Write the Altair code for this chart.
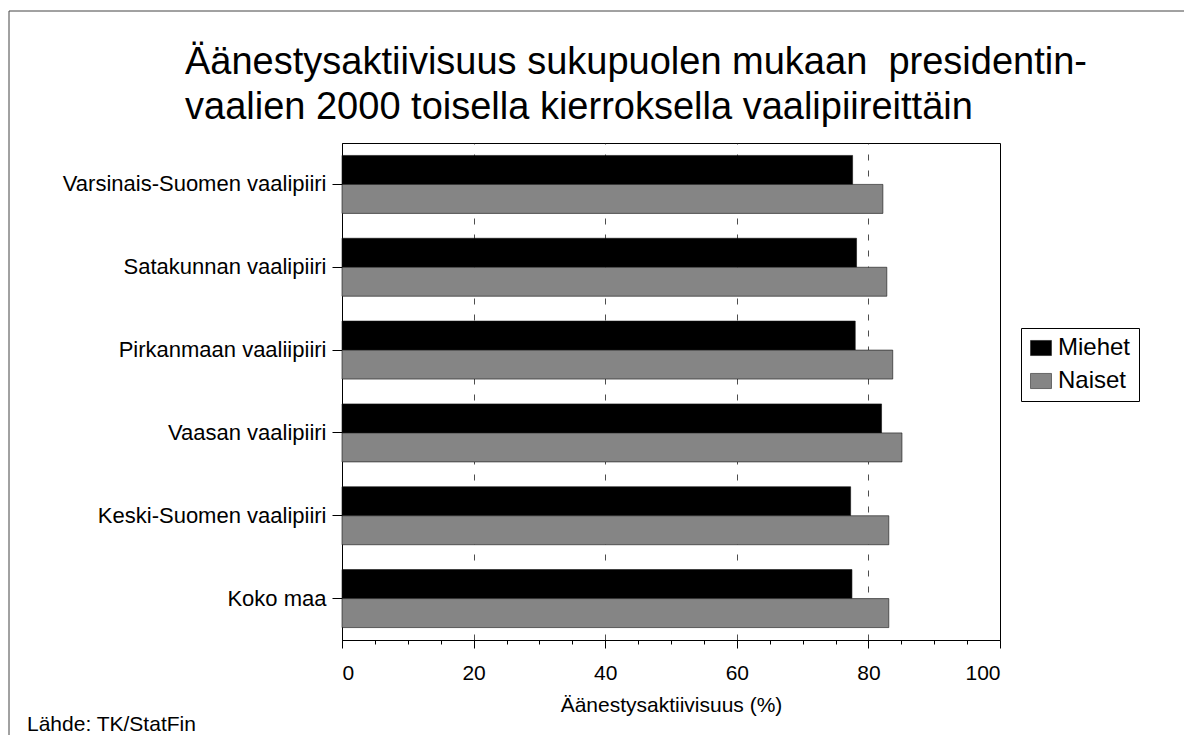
import altair as alt
import pandas as pd

districts = [
    "Varsinais-Suomen vaalipiiri",
    "Satakunnan vaalipiiri",
    "Pirkanmaan vaaliipiiri",
    "Vaasan vaalipiiri",
    "Keski-Suomen vaalipiiri",
    "Koko maa",
]
series = ["Miehet", "Naiset"]
men = [77.6, 78.2, 78.0, 82.0, 77.3, 77.5]
women = [82.2, 82.8, 83.7, 85.1, 83.1, 83.1]
x_ticks = list(range(0, 101, 5))
title_lines = [
    "Äänestysaktiivisuus sukupuolen mukaan\u00a0 presidentin-",
    "vaalien 2000 toisella kierroksella vaalipiireittäin",
]
x_title = "Äänestysaktiivisuus (%)"
source_text = "Lähde: TK/StatFin"

FONT = "Liberation Sans, Arial, sans-serif"

rows = []
for d, m, w in zip(districts, men, women):
    rows.append({"district": d, "series": series[0], "value": m})
    rows.append({"district": d, "series": series[1], "value": w})
df = pd.DataFrame(rows)

bars = alt.Chart(df).mark_bar(stroke="#111111", strokeWidth=0.6).encode(
    y=alt.Y(
        "district:N",
        sort=districts,
        scale=alt.Scale(paddingInner=0.3, paddingOuter=0.15),
        axis=alt.Axis(
            title=None,
            labelFontSize=22,
            labelFont=FONT,
            labelColor="black",
            labelLimit=400,
            tickSize=10,
            tickColor="black",
            domainColor="black",
            labelPadding=6,
        ),
    ),
    yOffset=alt.YOffset("series:N", sort=series),
    x=alt.X(
        "value:Q",
        scale=alt.Scale(domain=[0, 100], nice=False),
        axis=alt.Axis(
            values=x_ticks,
            labelExpr="datum.value % 20 === 0 ? datum.label : ''",
            labelFontSize=21,
            labelFont=FONT,
            labelColor="black",
            labelPadding=14,
            tickSize={"condition": {"test": "datum.value % 20 === 0", "value": 8}, "value": 4},
            tickColor="black",
            domainColor="black",
            grid=True,
            gridColor="#222222",
            gridDash=[6, 10],
            gridOpacity={
                "condition": {
                    "test": "datum.value % 20 === 0 && datum.value > 0 && datum.value < 100",
                    "value": 0.8,
                },
                "value": 0,
            },
            title=x_title,
            titleFont=FONT,
            titleFontSize=21,
            titleFontWeight="normal",
            titleColor="black",
            titlePadding=11,
        ),
    ),
    color=alt.Color(
        "series:N",
        sort=series,
        scale=alt.Scale(domain=series, range=["#000000", "#858585"]),
        legend=alt.Legend(
            title=None,
            orient="none",
            legendX=679,
            legendY=185,
            fillColor="white",
            strokeColor="black",
            padding=8,
            labelFont=FONT,
            labelFontSize=24,
            labelColor="black",
            labelOffset=5,
            rowPadding=9,
            symbolType="M-1,-0.72H1V0.72H-1Z",
            symbolSize=441,
            symbolStrokeWidth=0.5,
        ),
    ),
)

frame_top = alt.Chart(alt.Data(values=[{}])).mark_rule(color="#444444", strokeWidth=1).encode(
    x=alt.value(-333), x2=alt.value(850), y=alt.value(-132)
)
frame_left = alt.Chart(alt.Data(values=[{}])).mark_rule(color="#444444", strokeWidth=1).encode(
    x=alt.value(-333), y=alt.value(-132), y2=alt.value(600)
)
source = alt.Chart(alt.Data(values=[{"t": source_text}])).mark_text(
    align="left", baseline="middle", fontSize=21, font=FONT, color="black"
).encode(text="t:N", x=alt.value(-315), y=alt.value(582))

chart = alt.layer(frame_top, frame_left, bars, source).properties(
    width=658,
    height=497,
    padding={"left": 334, "top": 135, "right": 184, "bottom": 95},
    autosize="none",
    title=alt.Title(
        title_lines,
        anchor="start",
        frame="group",
        dx=-157,
        dy=146,
        offset=0,
        fontSize=38,
        font=FONT,
        fontWeight="normal",
        color="black",
        lineHeight=45,
        baseline="alphabetic",
    ),
).configure_view(stroke="black", strokeWidth=1)

chart.save("out.html", embed_options={"renderer": "svg", "actions": False})
